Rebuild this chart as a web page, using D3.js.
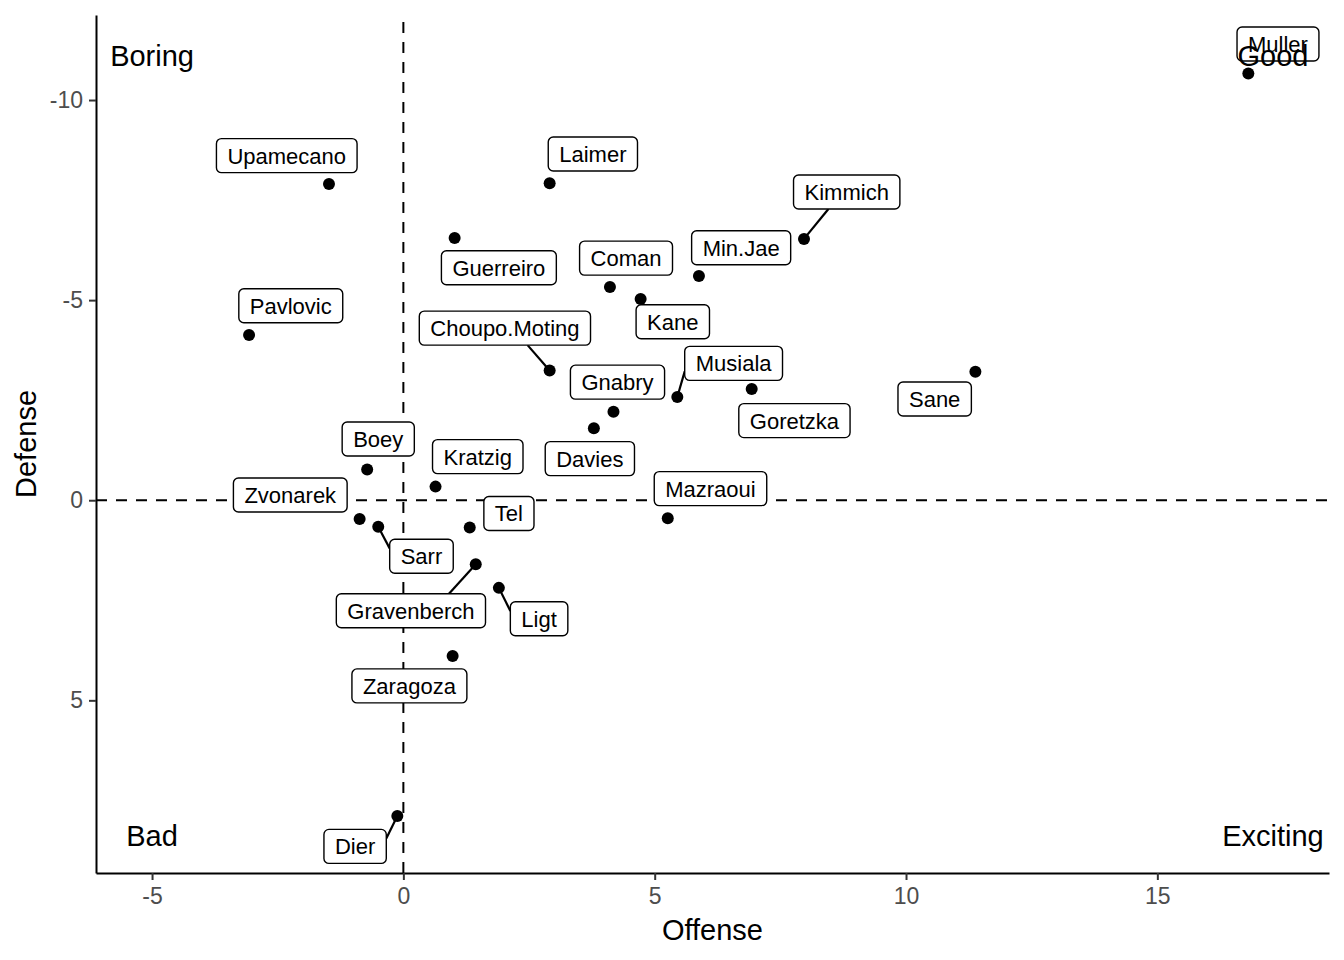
<!DOCTYPE html>
<html>
<head>
<meta charset="utf-8">
<script src="https://cdn.jsdelivr.net/npm/d3@7"></script>
<style>
    body { margin: 0; background: #fff; }
    text { font-family: "Liberation Sans", Arial, Helvetica, sans-serif; }
</style>
</head>
<body>
<div id="graf"></div>
<script>
// Datos
const players = ["Muller", "Upamecano", "Laimer", "Kimmich", "Guerreiro", "Min.Jae", "Coman", "Kane",
    "Pavlovic", "Choupo.Moting", "Sane", "Goretzka", "Musiala", "Gnabry", "Davies", "Boey", "Kratzig",
    "Zvonarek", "Sarr", "Tel", "Mazraoui", "Gravenberch", "Ligt", "Zaragoza", "Dier"];
const offense = [16.81, -1.48, 2.91, 7.97, 1.02, 5.88, 4.11, 4.72,
    -3.07, 2.91, 11.38, 6.93, 5.45, 4.18, 3.79, -0.72, 0.64,
    -0.87, -0.50, 1.32, 5.26, 1.44, 1.90, 0.98, -0.12];
const defense = [-10.66, -7.90, -7.92, -6.53, -6.55, -5.60, -5.33, -5.03,
    -4.13, -3.24, -3.21, -2.78, -2.58, -2.21, -1.80, -0.77, -0.34,
    0.47, 0.66, 0.68, 0.45, 1.60, 2.19, 3.89, 7.89];
// posiciones de las etiquetas (repel), en unidades de los datos
const labelOffense = [17.40, -2.32, 3.77, 8.82, 1.90, 6.72, 4.43, 5.36,
    -2.24, 2.02, 10.57, 7.78, 6.57, 4.26, 3.71, -0.50, 1.48,
    -2.25, 0.36, 2.10, 6.11, 0.15, 2.70, 0.12, -0.96];
const labelDefense = [-11.40, -8.61, -8.65, -7.70, -5.81, -6.31, -6.05, -4.46,
    -4.86, -4.30, -2.53, -1.99, -3.42, -2.95, -1.04, -1.53, -1.09,
    -0.13, 1.40, 0.33, -0.29, 2.76, 2.96, 4.64, 8.65];

const quadrantNames = ["Boring", "Good", "Bad", "Exciting"];
const quadrantOffense = [-5, 17.3, -5, 17.3];
const quadrantDefense = [-11.15, -11.15, 8.34, 8.34];

const xTicks = [-5, 0, 5, 10, 15];
const yTicks = [-10, -5, 0, 5];

// Dimensiones
const anchoTotal = 1344, altoTotal = 960;
const margins = { top: 15, right: 15, bottom: 87, left: 96 };
const ancho = anchoTotal - margins.left - margins.right;
const alto = altoTotal - margins.top - margins.bottom;

const svg = d3.select("#graf").append("svg")
    .attr("width", anchoTotal)
    .attr("height", altoTotal);
const g = svg.append("g").attr("transform", `translate(${margins.left}, ${margins.top})`);

// Escaladores (expansion 5% como ggplot)
const expand = (vals) => {
    const [a, b] = d3.extent(vals);
    const r = b - a;
    return [a - r * 0.05, b + r * 0.05];
};
const x = d3.scaleLinear().domain(expand(offense.concat(quadrantOffense))).range([0, ancho]);
const y = d3.scaleLinear().domain(expand(defense.concat(quadrantDefense))).range([0, alto]);

// Ejes
const xAxis = g.append("g").attr("transform", `translate(0, ${alto})`)
    .call(d3.axisBottom(x).tickValues(xTicks).tickFormat((d) => String(d)).tickSize(7).tickPadding(8).tickSizeOuter(0));
const yAxis = g.append("g")
    .call(d3.axisLeft(y).tickValues(yTicks).tickFormat((d) => String(d)).tickSize(7).tickPadding(6).tickSizeOuter(0));
[xAxis, yAxis].forEach((ax) => {
    ax.select(".domain").attr("stroke", "#000").attr("stroke-width", 2);
    ax.selectAll(".tick line").attr("stroke", "#333").attr("stroke-width", 2);
    ax.selectAll(".tick text").attr("fill", "#4D4D4D").style("font-size", "23px")
        .style("font-family", "'Liberation Sans', Arial, sans-serif");
});

// Lineas de referencia
g.append("line")
    .attr("x1", 0).attr("x2", ancho).attr("y1", y(0)).attr("y2", y(0))
    .attr("stroke", "#000").attr("stroke-width", 2).attr("stroke-dasharray", "11,9");
g.append("line")
    .attr("x1", x(0)).attr("x2", x(0)).attr("y1", alto).attr("y2", 0)
    .attr("stroke", "#000").attr("stroke-width", 2).attr("stroke-dasharray", "11,9");

// Puntos
g.selectAll("circle").data(players).enter().append("circle")
    .attr("cx", (d, i) => x(offense[i]))
    .attr("cy", (d, i) => y(defense[i]))
    .attr("r", 6)
    .attr("fill", "#000");

// punto de conexion en la caja (como select_line_connection de ggrepel)
function connection(px, py, b) {
    let ox, oy, left = false, right = false, top = false, bottom = false;
    if (px >= b.x1 && px <= b.x2) ox = px;
    else if (px > b.x2) { ox = b.x2; right = true; }
    else { ox = b.x1; left = true; }
    if (py >= b.y1 && py <= b.y2) oy = py;
    else if (py > b.y2) { oy = b.y2; bottom = true; }
    else { oy = b.y1; top = true; }
    const midx = (b.x1 + b.x2) / 2, midy = (b.y1 + b.y2) / 2;
    const d = Math.hypot(px - ox, py - oy);
    if ((top || bottom) && !(left || right)) {
        const alt = Math.hypot(px - midx, py - oy);
        ox = ox + (midx - ox) * d / alt;
    } else if ((left || right) && !(top || bottom)) {
        const alt = Math.hypot(px - ox, py - midy);
        oy = oy + (midy - oy) * d / alt;
    } else if ((left || right) && (top || bottom)) {
        const alt1 = Math.hypot(px - midx, py - oy);
        const alt2 = Math.hypot(px - ox, py - midy);
        if (alt1 < alt2) ox = ox + (midx - ox) * d / alt1;
        else oy = oy + (midy - oy) * d / alt2;
    }
    return [ox, oy];
}

// Etiquetas
const boxH = 34, padX = 11, minSegment = 21.5;
const labels = g.append("g");
players.forEach((name, i) => {
    const cx = x(labelOffense[i]), cy = y(labelDefense[i]);
    const px = x(offense[i]), py = y(defense[i]);
    const lg = labels.append("g");
    const seg = lg.append("line");
    const rect = lg.append("rect");
    const t = lg.append("text")
        .attr("x", cx).attr("y", cy)
        .attr("dy", "0.36em")
        .attr("text-anchor", "middle")
        .style("font-size", "22px")
        .attr("fill", "#000")
        .text(name);
    const w = t.node().getComputedTextLength() + padX * 2;
    const box = { x1: cx - w / 2, x2: cx + w / 2, y1: cy - boxH / 2, y2: cy + boxH / 2 };
    rect.attr("x", box.x1).attr("y", box.y1)
        .attr("width", w).attr("height", boxH)
        .attr("rx", 5).attr("ry", 5)
        .attr("fill", "#fff").attr("stroke", "#000").attr("stroke-width", 1.4);
    const [ex, ey] = connection(px, py, box);
    if (Math.hypot(ex - px, ey - py) > minSegment) {
        seg.attr("x1", px).attr("y1", py)
            .attr("x2", ex).attr("y2", ey)
            .attr("stroke", "#000").attr("stroke-width", 2.2);
    } else {
        seg.remove();
    }
});

// Cuadrantes
g.selectAll(".quad").data(quadrantNames).enter().append("text")
    .attr("class", "quad")
    .attr("x", (d, i) => x(quadrantOffense[i]))
    .attr("y", (d, i) => y(quadrantDefense[i]))
    .attr("dy", "0.42em")
    .attr("text-anchor", "middle")
    .style("font-size", "29px")
    .attr("fill", "#000")
    .text((d) => d);

// Titulos de ejes
svg.append("text")
    .attr("x", margins.left + ancho / 2)
    .attr("y", 940)
    .attr("text-anchor", "middle")
    .style("font-size", "29px")
    .text("Offense");
svg.append("text")
    .attr("transform", `translate(36, ${margins.top + alto / 2}) rotate(-90)`)
    .attr("text-anchor", "middle")
    .style("font-size", "29px")
    .text("Defense");
</script>
</body>
</html>
